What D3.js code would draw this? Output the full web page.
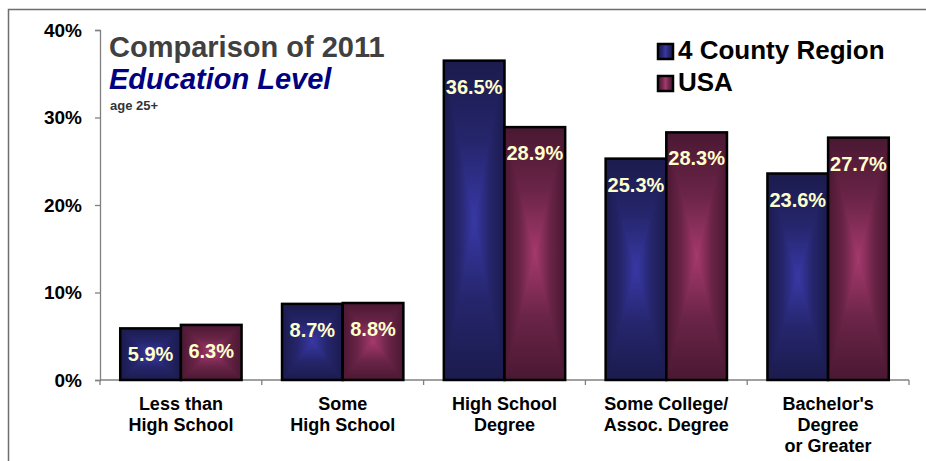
<!DOCTYPE html>
<html>
<head>
<meta charset="utf-8">
<script src="https://cdn.jsdelivr.net/npm/d3@7"></script>
<style>
  html, body { margin: 0; padding: 0; background: #fff; }
  svg { display: block; font-family: Arial, "Liberation Sans", sans-serif; }
</style>
</head>
<body>
<svg id="chart" width="926" height="461"></svg>
<script>
const categories = [
  ["Less than", "High School"],
  ["Some", "High School"],
  ["High School", "Degree"],
  ["Some College/", "Assoc. Degree"],
  ["Bachelor's", "Degree", "or Greater"]
];
const seriesNames = ["4 County Region", "USA"];
const regionValues = [5.9, 8.7, 36.5, 25.3, 23.6];
const usaValues = [6.3, 8.8, 28.9, 28.3, 27.7];
const yTicks = [0, 10, 20, 30, 40];

const seriesColors = [
  { key: "blue", dark: "#1b1b4d", light: "#3838a6" },
  { key: "red", dark: "#4a1832", light: "#a5396d" }
];

const svg = d3.select("#chart");
const W = 926, H = 461;
const margin = { left: 100, right: 17, top: 30, bottom: 81 };

// frame (only top and left edges visible)
svg.append("rect")
  .attr("x", 8.5).attr("y", 9.5)
  .attr("width", 1200).attr("height", 1200)
  .attr("fill", "none").attr("stroke", "#6e6e6e").attr("stroke-width", 1.5);

const defs = svg.append("defs");
seriesColors.forEach(c => {
  const mid = d3.interpolateRgb(c.dark, c.light)(0.35);
  const h = defs.append("linearGradient").attr("id", "gH-" + c.key)
    .attr("x1", 0).attr("y1", 0).attr("x2", 1).attr("y2", 0);
  [[0, c.dark], [0.25, mid], [0.5, c.light], [0.75, mid], [1, c.dark]]
    .forEach(([o, col]) => h.append("stop").attr("offset", o).attr("stop-color", col));
  const down = defs.append("linearGradient").attr("id", "gDown-" + c.key)
    .attr("x1", 0).attr("y1", 0).attr("x2", 0).attr("y2", 1);
  [[0, c.dark], [0.5, mid], [1, c.light]]
    .forEach(([o, col]) => down.append("stop").attr("offset", o).attr("stop-color", col));
  const up = defs.append("linearGradient").attr("id", "gUp-" + c.key)
    .attr("x1", 0).attr("y1", 0).attr("x2", 0).attr("y2", 1);
  [[0, c.light], [0.5, mid], [1, c.dark]]
    .forEach(([o, col]) => up.append("stop").attr("offset", o).attr("stop-color", col));
});

const x0 = d3.scaleBand()
  .domain(d3.range(categories.length))
  .range([margin.left, W - margin.right])
  .paddingInner(0.25).paddingOuter(0.125);
const x1 = d3.scaleBand().domain([0, 1]).range([0, x0.bandwidth()]).padding(0);
const y = d3.scaleLinear().domain([0, 40]).range([H - margin.bottom, margin.top]);

// Y axis
const yAxis = d3.axisLeft(y).tickValues(yTicks).tickFormat(d => d + "%")
  .tickSize(5).tickPadding(13);
const gy = svg.append("g").attr("transform", `translate(${margin.left},0)`).call(yAxis);
gy.select(".domain").attr("stroke", "#808080").attr("stroke-width", 1.3);
gy.selectAll(".tick line").attr("stroke", "#808080").attr("stroke-width", 1.3);
gy.selectAll(".tick text")
  .attr("font-family", "Arial, 'Liberation Sans', sans-serif")
  .attr("font-size", 19).attr("font-weight", "bold").attr("fill", "#000");

// X axis line and boundary ticks
const step = x0.step();
const boundaries = d3.range(categories.length + 1).map(i =>
  i < categories.length ? x0(i) - x0.paddingInner() * step / 2
                        : x0(i - 1) + x0.bandwidth() + x0.paddingInner() * step / 2);
svg.append("line")
  .attr("x1", margin.left).attr("x2", boundaries[boundaries.length - 1])
  .attr("y1", y(0)).attr("y2", y(0))
  .attr("stroke", "#808080").attr("stroke-width", 1.3);
svg.selectAll(".xtick").data(boundaries).join("line")
  .attr("x1", d => d).attr("x2", d => d)
  .attr("y1", y(0)).attr("y2", y(0) + 5)
  .attr("stroke", "#808080").attr("stroke-width", 1.3);

// Bars
const allSeries = [regionValues, usaValues];
const bars = [];
categories.forEach((c, ci) => {
  allSeries.forEach((vals, si) => {
    bars.push({ ci, si, v: vals[ci] });
  });
});

const gb = svg.append("g");
bars.forEach(b => {
  const col = seriesColors[b.si];
  const bx = x0(b.ci) + x1(b.si);
  const bw = x1.bandwidth();
  const top = y(b.v), bot = y(0);
  const cx = bx + bw / 2, cy = (top + bot) / 2;
  const g = gb.append("g");
  g.append("rect").attr("x", bx).attr("y", top).attr("width", bw).attr("height", bot - top)
    .attr("fill", `url(#gH-${col.key})`);
  g.append("path")
    .attr("d", `M${bx},${top}L${bx + bw},${top}L${cx},${cy}Z`)
    .attr("fill", `url(#gDown-${col.key})`);
  g.append("path")
    .attr("d", `M${bx},${bot}L${bx + bw},${bot}L${cx},${cy}Z`)
    .attr("fill", `url(#gUp-${col.key})`);
  g.append("rect").attr("x", bx).attr("y", top).attr("width", bw).attr("height", bot - top)
    .attr("fill", "none").attr("stroke", "#000").attr("stroke-width", 2.5);
});

// Value labels
svg.append("g").selectAll("text").data(bars).join("text")
  .attr("x", d => x0(d.ci) + x1(d.si) + x1.bandwidth() / 2)
  .attr("y", d => y(d.v) + 33)
  .attr("text-anchor", "middle")
  .attr("font-size", 20).attr("font-weight", "bold")
  .attr("fill", "#ffffcc")
  .text(d => d.v.toFixed(1) + "%");

// Category labels
const cl = svg.append("g").selectAll("text").data(categories).join("text")
  .attr("x", (d, i) => x0(i) + x0.bandwidth() / 2)
  .attr("y", 410)
  .attr("text-anchor", "middle")
  .attr("font-size", 18).attr("font-weight", "bold").attr("fill", "#000");
cl.selectAll("tspan").data(d => d).join("tspan")
  .attr("x", function () { return d3.select(this.parentNode).attr("x"); })
  .attr("dy", (d, i) => i === 0 ? 0 : 21)
  .text(d => d);

// Title
svg.append("text").attr("x", 109).attr("y", 57)
  .attr("font-size", 29).attr("font-weight", "bold").attr("fill", "#404040")
  .text("Comparison of 2011");
svg.append("text").attr("x", 109).attr("y", 89)
  .attr("font-size", 29).attr("font-weight", "bold").attr("font-style", "italic")
  .attr("fill", "#000080")
  .text("Education Level");
svg.append("text").attr("x", 110).attr("y", 110)
  .attr("font-size", 13).attr("font-weight", "bold").attr("fill", "#333")
  .text("age 25+");

// Legend
const lg = svg.append("g");
seriesNames.forEach((name, i) => {
  const col = seriesColors[i];
  const ly = 59 + i * 32;
  lg.append("rect").attr("x", 658).attr("y", ly - 15).attr("width", 15).attr("height", 15)
    .attr("fill", `url(#gH-${col.key})`).attr("stroke", "#000").attr("stroke-width", 2.5);
  lg.append("text").attr("x", 678).attr("y", ly)
    .attr("font-size", 26).attr("font-weight", "bold").attr("fill", "#000")
    .text(name);
});
</script>
</body>
</html>
